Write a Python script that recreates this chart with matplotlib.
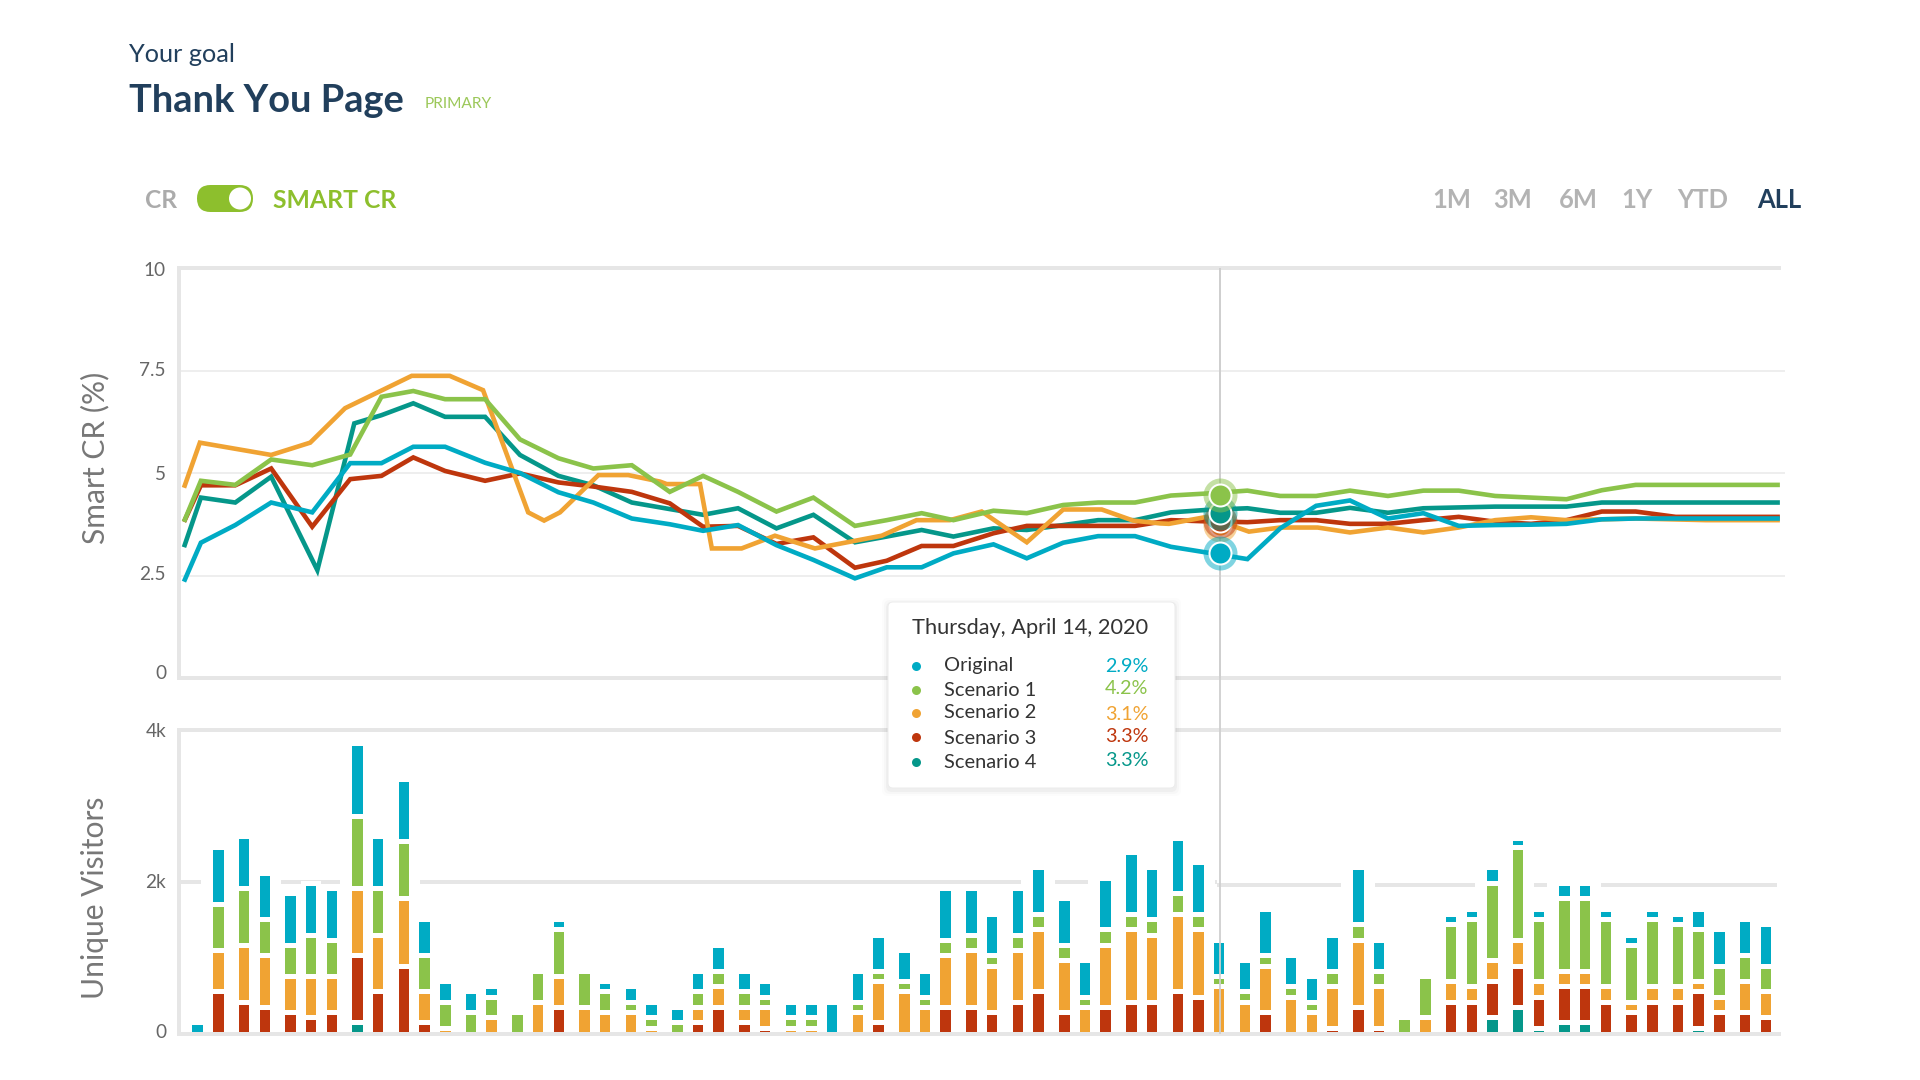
import numpy as np
import matplotlib
matplotlib.use("Agg")
import matplotlib.pyplot as plt
from matplotlib.patches import FancyBboxPatch, Circle
from matplotlib.transforms import ScaledTranslation

plt.rcParams['font.family'] = ['Lato', 'DejaVu Sans']

# ---------- data ----------
series_names = ['Original', 'Scenario 1', 'Scenario 2', 'Scenario 3', 'Scenario 4']
colors = ['#00ABC4', '#8BC34A', '#F0A333', '#BE360D', '#05978A']
tooltip_title = 'Thursday, April 14, 2020'
tooltip_values = ['2.9%', '4.2%', '3.1%', '3.3%', '3.3%']
range_buttons = ['1M', '3M', '6M', '1Y', 'YTD', 'ALL']

# Smart CR lines (x = days since the first point)
line_days = [0, 3.3, 10, 17, 25, 32.4, 38.5, 44.7, 50.9, 58.7, 65.5, 73, 79.8, 87.3, 94.7,
             101.2, 108, 115.5, 122.7, 130.8, 137, 143.8, 150, 157.8, 164.3, 171.4, 178.2,
             185.4, 192.4, 199.4, 207.3, 213.7, 220.7, 227.3, 234.7, 241.6, 248.5, 255.6,
             262.6, 269.5, 276.4, 283, 290.8, 296.7, 311.1]
original_cr = [2.35, 3.3, 3.73, 4.28, 4.04, 5.24, 5.24, 5.64, 5.64, 5.25, 5.0, 4.53, 4.28, 3.89, 3.75,
               3.59, 3.73, 3.24, 2.88, 2.43, 2.7, 2.7, 3.04, 3.26, 2.92, 3.3, 3.46, 3.46, 3.2, 3.06,
               2.9, 3.65, 4.2, 4.33, 3.89, 4.02, 3.71, 3.73, 3.74, 3.76, 3.87, 3.89, 3.89, 3.89, 3.89]
scenario1_cr = [3.81, 4.81, 4.71, 5.33, 5.19, 5.45, 6.86, 7.0, 6.8, 6.8, 5.82, 5.36, 5.11, 5.19, 4.54,
                4.93, 4.54, 4.06, 4.4, 3.71, 3.85, 4.02, 3.85, 4.08, 4.02, 4.22, 4.28, 4.28, 4.45, 4.5,
                4.57, 4.44, 4.44, 4.57, 4.44, 4.57, 4.57, 4.44, 4.4, 4.36, 4.58, 4.71, 4.71, 4.71, 4.71]
scenario2_days = [0, 3.1, 17, 24.6, 31.4, 44.4, 51.8, 58.3, 67.1, 70.2, 73.3, 80.8, 86.6, 92.8, 94.1,
                  100.6, 102.9, 108.7, 115.2, 123, 136, 142.8, 149.3, 155.5, 164.3, 171.4, 178.9,
                  185, 190.3, 192, 199.4, 207.6, 213.7, 221, 227.3, 234.7, 241.6, 248.5, 255.6,
                  262.6, 269.5, 276.4, 283, 296.7, 311.1]
scenario2_cr = [4.64, 5.74, 5.44, 5.74, 6.58, 7.37, 7.37, 7.02, 4.04, 3.84, 4.04, 4.95, 4.95, 4.79, 4.73,
                4.73, 3.16, 3.16, 3.47, 3.16, 3.47, 3.85, 3.85, 4.06, 3.31, 4.11, 4.11, 3.84, 3.77, 3.76,
                3.93, 3.57, 3.67, 3.67, 3.55, 3.67, 3.55, 3.67, 3.85, 3.92, 3.85, 3.87, 3.89, 3.85, 3.85]
scenario3_cr = [3.81, 4.7, 4.7, 5.11, 3.69, 4.85, 4.93, 5.38, 5.05, 4.81, 4.99, 4.77, 4.67, 4.54, 4.26,
                3.69, 3.71, 3.27, 3.43, 2.69, 2.86, 3.22, 3.22, 3.53, 3.71, 3.71, 3.71, 3.71, 3.85, 3.82,
                3.8, 3.85, 3.85, 3.76, 3.76, 3.85, 3.93, 3.81, 3.76, 3.85, 4.06, 4.06, 3.93, 3.93, 3.93]
scenario4_days = [0, 3.3, 10, 17, 26, 33.2, 38.5, 44.7, 50.9, 58.7, 65.5, 73, 79.8, 87.3, 94.7,
                  101.2, 108, 115.5, 122.7, 130.8, 137, 143.8, 150, 157.8, 164.3, 171.4, 178.2,
                  185.4, 192.4, 199.4, 207.3, 213.7, 220.7, 227.3, 234.7, 241.6, 248.5, 255.6,
                  262.6, 269.5, 276.4, 283, 290.8, 296.7, 311.1]
scenario4_cr = [3.19, 4.4, 4.28, 4.91, 2.63, 6.21, 6.41, 6.7, 6.37, 6.37, 5.44, 4.93, 4.7, 4.28, 4.12,
                3.98, 4.14, 3.65, 3.98, 3.31, 3.45, 3.61, 3.45, 3.65, 3.61, 3.73, 3.85, 3.85, 4.04, 4.1,
                4.14, 4.03, 4.03, 4.15, 4.03, 4.14, 4.16, 4.18, 4.18, 4.18, 4.28, 4.28, 4.28, 4.28, 4.28]

# hovered point
hover_day_cr = 201.9
hover_day_uv = 201.25
hover_cr = [3.05, 4.47, 3.73, 3.83, 4.02]

# Unique visitors stacks
bar_days = [3, 7, 12, 16, 21, 25, 29, 34, 38, 43, 47, 51, 56, 60, 65, 69, 73, 78, 82, 87, 91, 96, 100, 104,
            109, 113, 118, 122, 126, 131, 135, 140, 144, 148, 153, 157, 162, 166, 171, 175, 179, 184, 188,
            193, 197, 201, 206, 210, 215, 219, 223, 228, 232, 237, 241, 246, 250, 254, 259, 263, 268, 272,
            276, 281, 285, 290, 294, 298, 303, 307]
scenario4_uv = [0, 0, 0, 0, 0, 0, 0, 153, 0, 0, 0, 0, 0, 0, 0, 0, 0, 0, 0, 0, 0, 0, 0, 0,
                0, 0, 0, 0, 0, 0, 0, 0, 0, 0, 0, 0, 0, 0, 0, 0, 0, 0, 0,
                0, 0, 0, 0, 0, 0, 0, 0, 0, 0, 0, 0, 0, 0, 221, 357, 85, 153, 153,
                0, 0, 0, 0, 85, 0, 0, 0]
scenario3_uv = [0, 561, 425, 357, 289, 221, 289, 884, 561, 901, 153, 0, 0, 0, 0, 0, 357, 0, 0, 0, 0, 0, 153, 357,
                153, 85, 0, 0, 0, 0, 153, 0, 0, 357, 357, 289, 425, 561, 289, 0, 357, 425, 425,
                561, 493, 0, 0, 289, 0, 0, 85, 357, 85, 0, 0, 425, 425, 476, 544, 408, 476, 476,
                425, 289, 425, 425, 476, 289, 289, 221]
scenario2_uv = [0, 544, 748, 680, 476, 544, 476, 884, 748, 884, 408, 85, 0, 221, 0, 425, 408, 357, 289, 289, 85, 0, 204, 272,
                204, 272, 85, 85, 0, 289, 544, 561, 357, 680, 748, 612, 680, 816, 680, 357, 816, 952, 884,
                1020, 884, 629, 425, 612, 493, 289, 544, 884, 544, 0, 221, 272, 204, 272, 340, 204, 204, 204,
                204, 136, 204, 204, 136, 204, 408, 340]
scenario1_uv = [0, 612, 748, 476, 408, 544, 476, 952, 612, 748, 476, 340, 289, 272, 289, 408, 612, 476, 272, 136, 136, 153, 204, 204,
                204, 136, 136, 136, 0, 136, 136, 136, 136, 204, 204, 136, 204, 204, 204, 136, 204, 204, 204,
                272, 204, 136, 136, 136, 136, 136, 204, 204, 204, 221, 544, 748, 884, 1020, 1224, 816, 952, 952,
                884, 748, 884, 816, 680, 408, 340, 340]
original_uv = [153, 748, 680, 612, 680, 680, 680, 952, 680, 816, 476, 272, 272, 136, 0, 0, 136, 0, 136, 204, 204, 204, 272, 340,
               272, 204, 204, 204, 425, 408, 476, 408, 340, 680, 612, 544, 612, 612, 612, 476, 680, 816, 680,
               720, 680, 476, 408, 612, 408, 340, 476, 748, 408, 0, 0, 136, 136, 204, 109, 136, 204, 204,
               136, 136, 136, 136, 272, 476, 476, 544]
# bars (1-based) whose surrounds interrupt the 2k gridline
grid_gap_bars = [2, 3, 4, 8, 9, 10, 38, 41, 42, 43, 44, 45, 52, 58, 59, 61, 62]

W, H = 1920, 1080
DPI = 100
GRID = '#E6E6E6'
TICK = '#666666'
NAVY = '#213F5C'
GREEN_UI = '#8DBF2D'
CROSS = '#CFCFCF'
px = 72 / DPI  # points per output pixel

fig = plt.figure(figsize=(W / DPI, H / DPI), dpi=DPI, facecolor='white')

def axes_px(l, t, r, b):
    return fig.add_axes([l / W, 1 - b / H, (r - l) / W, (b - t) / H], facecolor='none')

def nudge_label(label, up_px):
    label.set_transform(label.get_transform() + ScaledTranslation(0, up_px * px / 72, fig.dpi_scale_trans))

# ---------- Smart CR panel ----------
ax1 = axes_px(179, 268, 1785, 678)
ax1.set_xlim(-0.97, 312.1)
ax1.set_ylim(0, 10)
for v in (2.5, 5, 7.5):
    ax1.axhline(v, color='#EAEAEA', lw=1.6 * px, zorder=1)
for v in (0, 10):
    ax1.axhline(v, xmax=0.9975, color=GRID, lw=4 * px, zorder=1, clip_on=False, solid_capstyle='butt')
cr_x = [line_days, line_days, scenario2_days, line_days, scenario4_days]
cr_y = [original_cr, scenario1_cr, scenario2_cr, scenario3_cr, scenario4_cr]
for i, z in zip(range(5), [7, 6, 5, 4, 3]):
    ax1.plot(cr_x[i], cr_y[i], color=colors[i], lw=4.6 * px, zorder=z,
             solid_joinstyle='miter', solid_capstyle='butt', clip_on=False)
ax1.plot([hover_day_cr, hover_day_cr], [0, 10], color=CROSS, lw=2 * px, zorder=8, solid_capstyle='butt')
for i, z in zip([2, 3, 4, 1, 0], [10, 11, 12, 13, 14]):
    ax1.plot([hover_day_cr], [hover_cr[i]], 'o', ms=34 * px, color=colors[i], alpha=0.5, mew=0, zorder=z, clip_on=False)
    ax1.plot([hover_day_cr], [hover_cr[i]], 'o', ms=22 * px, color=colors[i], mec='white', mew=2 * px, zorder=z, clip_on=False)
ax1.set_yticks([0, 2.5, 5, 7.5, 10], ['0', '2.5', '5', '7.5', '10'])
ax1.set_xticks([])
ax1.tick_params(axis='y', length=0, pad=13 * px, labelsize=19 * px, labelcolor=TICK)
for lab, up in zip(ax1.get_yticklabels(), [6, 2, 0, 1, -1]):
    nudge_label(lab, up)
for s in ('top', 'right', 'bottom'):
    ax1.spines[s].set_visible(False)
ax1.spines['left'].set_linewidth(4 * px)
ax1.spines['left'].set_color(GRID)
ax1.set_ylabel('Smart CR (%)', fontsize=30 * px, color='#777777')
ax1.yaxis.set_label_coords((109 - 179) / 1606, 0.538)

# ---------- Unique Visitors panel ----------
ax2 = axes_px(179, 730, 1781, 1034)
ax2.set_xlim(-0.53, 310.05)
ax2.set_ylim(0, 4000)
ax2.axhline(4000, color=GRID, lw=4 * px, zorder=1, clip_on=False, solid_capstyle='butt')
split_day = 200.8
ax2.plot([-0.5, split_day], [2000, 2000], color=GRID, lw=4 * px, zorder=1, solid_capstyle='butt')
ax2.plot([split_day, 309.2], [1965, 1965], color=GRID, lw=4 * px, zorder=1, solid_capstyle='butt')
for b in grid_gap_bars:
    ax2.bar(bar_days[b - 1], 400, width=6.5, bottom=1800, color='white', lw=0, zorder=2)
stack = [scenario4_uv, scenario3_uv, scenario2_uv, scenario1_uv, original_uv]
stack_cols = [colors[4], colors[3], colors[2], colors[1], colors[0]]
base = np.zeros(len(bar_days))
for vals, c in zip(stack, stack_cols):
    vals = np.array(vals, float)
    keep = vals > 0
    ax2.bar(np.array(bar_days)[keep], vals[keep], bottom=base[keep], width=3.0, color=c,
            edgecolor='white', linewidth=5 * px, zorder=3)
    base += vals
ax2.axhline(0, color=GRID, lw=4 * px, zorder=5, clip_on=False, solid_capstyle='butt')
ax2.plot([hover_day_uv, hover_day_uv], [0, 4700], color=CROSS, lw=2 * px, zorder=6, clip_on=False,
         solid_capstyle='butt', alpha=0.9)
ax2.set_yticks([0, 2000, 4000], ['0', '2k', '4k'])
ax2.set_xticks([])
ax2.tick_params(axis='y', length=0, pad=13 * px, labelsize=19 * px, labelcolor=TICK)
for lab, up in zip(ax2.get_yticklabels(), [2.5, 1, 0]):
    nudge_label(lab, up)
for s in ('top', 'right', 'bottom'):
    ax2.spines[s].set_visible(False)
ax2.spines['left'].set_linewidth(4 * px)
ax2.spines['left'].set_color(GRID)
ax2.set_ylabel('Unique Visitors', fontsize=30 * px, color='#777777')
ax2.yaxis.set_label_coords((109 - 179) / 1602, 0.448)

# ---------- overlay in output pixels ----------
ov = fig.add_axes([0, 0, 1, 1], facecolor='none', zorder=20)
ov.set_xlim(0, W)
ov.set_ylim(H, 0)
ov.axis('off')

def T(x, y, s, size, color, weight='normal', ha='left'):
    ov.text(x, y, s, fontsize=size * px, color=color, fontweight=weight, ha=ha, va='center', zorder=10)

T(129, 55, 'Your goal', 25.2, NAVY)
T(129, 101.5, 'Thank You Page', 38, NAVY, 'bold')
T(425, 104, 'PRIMARY', 15.5, '#9CC85A')
T(145, 201, 'CR', 24.5, '#ABABAB', 'bold')
T(273, 201, 'SMART CR', 24.8, GREEN_UI, 'bold')
ov.add_patch(FancyBboxPatch((197, 185), 56, 27, boxstyle='round,pad=0,rounding_size=13.5',
                            fc=GREEN_UI, ec='none', zorder=5))
ov.add_patch(Circle((240, 198.5), 11, fc='white', ec='none', zorder=6))

button_x = [1452, 1513, 1578, 1637, 1703, 1779]
for i, (x, s) in enumerate(zip(button_x, range_buttons)):
    T(x, 199.5, s, 25.5, NAVY if s == 'ALL' else '#B3B3B3', 'bold', ha='center')

# tooltip
for grow, a in [(6, 0.012), (4, 0.018), (2, 0.03)]:
    ov.add_patch(FancyBboxPatch((888 - grow, 602 - grow + 2), 287 + 2 * grow, 186 + 2 * grow,
                                boxstyle='round,pad=0,rounding_size=6', fc='black', ec='none', alpha=a, zorder=7))
ov.add_patch(FancyBboxPatch((888, 602), 287, 186, boxstyle='round,pad=0,rounding_size=5',
                            fc='white', ec='#ECECEC', lw=1 * px, zorder=8))
T(912, 627.5, tooltip_title, 21.8, '#333333')
dot_y = [666, 690, 713, 737, 762]
name_y = [666, 691, 713, 738, 763]
val_y = [666, 689, 714, 737, 761]
for i, name in enumerate(series_names):
    ov.plot([916], [dot_y[i]], 'o', ms=9 * px, color=colors[i], mew=0, zorder=10)
    T(944, name_y[i], name, 20, '#333333')
    T(1105, val_y[i], tooltip_values[i], 19.8, colors[i])

fig.savefig('out.png', dpi=DPI, facecolor='white')
